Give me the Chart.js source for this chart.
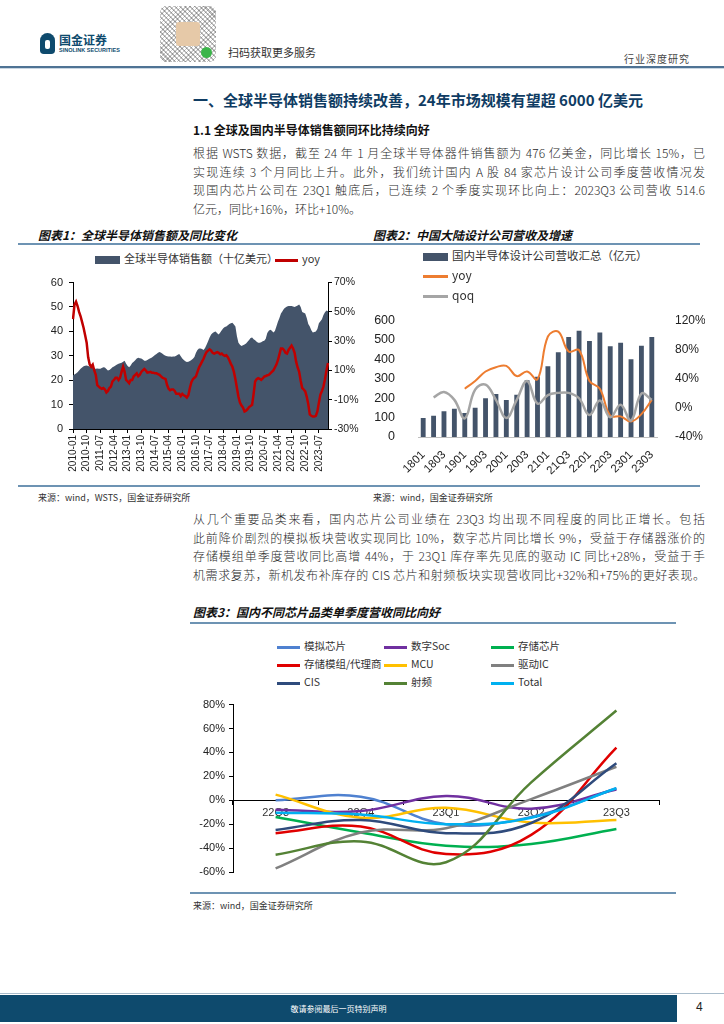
<!DOCTYPE html>
<html>
<head>
<meta charset="utf-8">
<script src="https://cdn.jsdelivr.net/npm/chart.js@4.4.1/dist/chart.umd.min.js"></script>
<style>
  html, body { margin: 0; padding: 0; background: #fff; }
  body { width: 724px; height: 1024px; position: relative; overflow: hidden;
         font-family: "Noto Sans CJK SC", "Noto Sans", sans-serif; color: #222; }
  .abs { position: absolute; white-space: nowrap; }
  .para { position: absolute; left: 193px; width: 512px; font-size: 12px; color: #2a2a2a; font-weight: 300; }
  .para div { height: 18.5px; line-height: 18.5px; text-align: justify; text-align-last: justify; white-space: nowrap; }
  .para div.last { text-align-last: left; }
  .ctitle { position: absolute; font-size: 12px; font-weight: bold; font-style: italic; color: #111; white-space: nowrap; }
  .rule { position: absolute; height: 2px; background: #6d93b3; }
  .src { position: absolute; font-size: 9px; color: #333; white-space: nowrap; }
  .leg { position: absolute; font-size: 11px; color: #333; white-space: nowrap; line-height: 14px; }
  .sw { display: inline-block; vertical-align: middle; margin-right: 4px; }
  canvas { position: absolute; }
</style>
</head>
<body>
<!-- header -->
<div class="abs" style="left:40px;top:33px;width:15px;height:21px;background:#0e4a6d;border-radius:8px 8px 4px 4px;"></div>
<div class="abs" style="left:45px;top:40px;width:5px;height:9px;background:#fff;border-radius:2px;"></div>
<div class="abs" style="left:59px;top:31px;font-size:12px;font-weight:bold;color:#0e4a6d;">国金证券</div>
<div class="abs" style="left:59px;top:47px;font-size:5.5px;font-weight:bold;color:#0e4a6d;font-family:'Liberation Sans',sans-serif;">SINOLINK SECURITIES</div>
<div class="abs" style="left:160px;top:6px;width:56px;height:56px;border-radius:6px;background:repeating-linear-gradient(45deg,#bbb 0 1.5px,#fff 1.5px 3.5px),repeating-linear-gradient(-45deg,#ccc 0 1px,#fff 1px 3px);background-blend-mode:multiply;"></div>
<div class="abs" style="left:176px;top:22px;width:24px;height:24px;background:#e6c9a8;border-radius:3px;"></div>
<div class="abs" style="left:201px;top:47px;width:11px;height:11px;background:#3bb54a;border-radius:50%;"></div>
<div class="abs" style="left:228px;top:44px;font-size:11px;color:#333;">扫码获取更多服务</div>
<div class="abs" style="left:624px;top:51px;font-size:10px;color:#444;letter-spacing:1px;">行业深度研究</div>
<div class="abs" style="left:0;top:66px;width:724px;height:2px;background:#4f7394;"></div>
<div class="abs" style="left:0;top:68px;width:724px;height:1px;background:#c9d6e2;"></div>

<div class="abs" style="left:193px;top:89px;font-size:15px;font-weight:bold;color:#0f3c63;">一、全球半导体销售额持续改善，24年市场规模有望超 6000 亿美元</div>
<div class="abs" style="left:193px;top:121px;font-size:12px;font-weight:bold;color:#111;">1.1 全球及国内半导体销售额同环比持续向好</div>

<div class="para" style="top:144px;">
  <div>根据 WSTS 数据，截至 24 年 1 月全球半导体器件销售额为 476 亿美金，同比增长 15%，已</div>
  <div>实现连续 3 个月同比上升。此外，我们统计国内 A 股 84 家芯片设计公司季度营收情况发</div>
  <div>现国内芯片公司在 23Q1 触底后，已连续 2 个季度实现环比向上：2023Q3 公司营收 514.6</div>
  <div class="last">亿元，同比+16%，环比+10%。</div>
</div>

<div class="ctitle" style="left:38px;top:226px;">图表1：全球半导体销售额及同比变化</div>
<div class="ctitle" style="left:373px;top:226px;">图表2：中国大陆设计公司营收及增速</div>
<div class="rule" style="left:18px;top:243px;width:682px;"></div>

<!-- chart 1 legend -->
<div class="leg" style="left:95px;top:251px;"><span class="sw" id="l1a" style="width:25px;height:8px;"></span>全球半导体销售额（十亿美元）</div>
<div class="leg" style="left:275px;top:251px;"><span class="sw" id="l1b" style="width:23px;height:3px;"></span>yoy</div>
<canvas id="c1" width="350" height="205" style="left:18px;top:270px;"></canvas>

<!-- chart 2 legend -->
<div class="leg" style="left:423px;top:248px;font-size:11.5px;"><span class="sw" id="l2a" style="width:25px;height:8px;"></span>国内半导体设计公司营收汇总（亿元）</div>
<div class="leg" style="left:423px;top:268px;font-size:12px;"><span class="sw" id="l2b" style="width:25px;height:3px;"></span>yoy</div>
<div class="leg" style="left:423px;top:288px;font-size:12px;"><span class="sw" id="l2c" style="width:25px;height:3px;"></span>qoq</div>
<canvas id="c2" width="345" height="180" style="left:360px;top:298px;"></canvas>

<div class="rule" style="left:18px;top:485px;width:682px;"></div>
<div class="src" style="left:38px;top:491px;">来源：wind，WSTS，国金证券研究所</div>
<div class="src" style="left:373px;top:491px;">来源：wind，国金证券研究所</div>

<div class="para" style="top:510px;">
  <div>从几个重要品类来看，国内芯片公司业绩在 23Q3 均出现不同程度的同比正增长。包括</div>
  <div>此前降价剧烈的模拟板块营收实现同比 10%，数字芯片同比增长 9%，受益于存储器涨价的</div>
  <div>存储模组单季度营收同比高增 44%，于 23Q1 库存率先见底的驱动 IC 同比+28%，受益于手</div>
  <div>机需求复苏，新机发布补库存的 CIS 芯片和射频板块实现营收同比+32%和+75%的更好表现。</div>
</div>

<div class="ctitle" style="left:193px;top:603px;">图表3：国内不同芯片品类单季度营收同比向好</div>
<div class="rule" style="left:190px;top:622px;width:486px;"></div>
<div id="leg3"></div>
<canvas id="c3" width="480" height="190" style="left:185px;top:694px;"></canvas>
<div class="rule" style="left:190px;top:892px;width:486px;"></div>
<div class="src" style="left:193px;top:899px;">来源：wind，国金证券研究所</div>

<!-- footer -->
<div class="abs" style="left:0;top:993px;width:724px;height:1px;background:#a9bccb;"></div>
<div class="abs" style="left:0;top:995px;width:677px;height:27px;background:#0e4a6d;"></div>
<div class="abs" style="left:0;top:995px;width:677px;height:27px;line-height:27px;text-align:center;font-size:8px;color:#fff;">敬请参阅最后一页特别声明</div>
<div class="abs" style="left:696px;top:1000px;font-size:12px;color:#222;font-family:'Liberation Sans',sans-serif;">4</div>

<script>
// ---------------- Chart 1 data ----------------
const salesMonths = [];
for (let y = 2010; y <= 2024; y++) {
  for (let m = 1; m <= 12; m++) {
    if (y === 2024 && m > 1) break;
    salesMonths.push(y + '-' + String(m).padStart(2, '0'));
  }
}
const globalSales = [
  22.0, 22.3, 22.7, 23.3, 24.0, 24.7, 25.2, 25.7, 25.9, 26.0, 25.8, 25.6,
  25.6, 25.2, 24.7, 24.7, 24.8, 24.7, 24.7, 25.0, 25.3, 25.2, 24.6, 24.0,
  24.2, 24.7, 25.3, 25.6, 26.0, 26.4, 26.7, 26.9, 27.2, 27.6, 28.0, 26.7,
  25.8, 25.3, 26.0, 27.0, 27.6, 28.2, 28.9, 29.2, 29.0, 28.9, 28.5, 28.0,
  28.0, 28.3, 28.7, 29.0, 29.3, 29.8, 30.3, 30.7, 31.2, 31.6, 31.2, 30.8,
  30.3, 30.0, 29.8, 29.7, 29.7, 29.6, 29.7, 29.7, 30.0, 30.4, 30.7, 29.8,
  28.9, 28.3, 27.8, 27.5, 27.6, 27.9, 28.3, 28.8, 29.5, 31.3, 32.4, 33.0,
  33.0, 32.8, 32.4, 33.2, 34.5, 36.0, 37.5, 38.7, 39.3, 39.8, 40.0, 39.2,
  38.7, 39.5, 40.5, 41.3, 41.8, 42.0, 42.5, 43.0, 43.3, 43.5, 42.8, 42.0,
  38.0, 35.3, 34.5, 34.0, 34.3, 34.6, 35.0, 35.8, 36.5, 37.3, 37.5, 36.8,
  36.4, 35.8, 35.3, 35.3, 35.6, 36.0, 36.2, 37.0, 39.3, 40.3, 40.7, 40.3,
  39.6, 40.2, 42.0, 44.0, 45.5, 47.3, 48.3, 49.3, 49.8, 50.2, 50.4, 50.4,
  50.4, 50.2, 50.0, 50.3, 50.6, 51.0, 50.0, 48.0, 47.6, 47.3, 45.5, 43.0,
  42.0, 40.5, 39.6, 39.8, 40.0, 41.0, 43.3, 44.2, 45.0, 46.7, 47.8, 48.6,
  48.3
];
const globalYoy = [
  45, 55, 57, 54, 50, 47, 43, 39, 34, 29, 19, 14,
  12.5, 14, 10, 7, 0, -1, -2, -2.5, -2, -3, -5, -4,
  -2, -1, 2.5, 3.5, 5, 5, 3.5, 5, 9, 12.5, 9, 3.5,
  2.5, 1.3, 3.5, 3.5, 6, 7, 8, 6, 7, 9, 10, 11,
  10, 8.5, 8.7, 9, 8.5, 8.5, 8, 8, 7.5, 7, 6, 5,
  4.5, 4, 0, -2.5, -3.5, -3, -3, -4, -6, -6, -6, -7.5,
  -6, -7, -7.5, -8.5, -7, -2, 2, 4, 5, 6, 9, 12,
  14, 16, 18, 20.5, 22.6, 23.5, 24.4, 23.5, 22, 21.5, 22, 22.5,
  22, 21, 21.5, 20.5, 20, 20.4, 19, 17, 14.5, 12.5, 9, 4,
  -2, -8, -12, -14, -15.4, -18, -17.5, -16.5, -15, -14.3, -13.5, -6,
  2.5, 4, 4.7, 4.3, 3.6, 4.5, 5.8, 6.2, 6.7, 7, 8, 9,
  10, 12, 14, 17, 21, 25, 25, 24, 22, 21.5, 24, 25.5,
  27, 25, 22, 16, 12, 9, 3, -2, -3, -4.3, -8, -13,
  -20, -21, -21.5, -21.5, -21, -18, -12, -6.5, -4, -1, 4, 10, 15
];
const salesTickEvery = 9;

// ---------------- Chart 2 data ----------------
const quarters = ['1801','1802','1803','1804','1901','1902','1903','1904','2001','2002','2003','2004',
                  '2101','2102','21Q3','2104','2201','2202','2203','2204','2301','2302','2303'];
const designRevenue = [98, 110, 132, 146, 124, 151, 199, 222, 191, 217, 292, 310,
                       364, 437, 515, 547, 494, 538, 467, 486, 400, 470, 514.6];
const designYoy = [null, null, null, null, 26.3, 37, 50, 55.9, 57.7, 43.7, 50, 39.3,
                   98, 104.7, 77.3, 79.4, 37, 26.3, -10.8, -11.7, -18.7, -8.6, 11];
const designQoq = [null, 14.5, 21.9, 11, -14.3, 25, 31.9, 11, -13.9, 11, 37, 5.8,
                   17.5, 20.6, 20.6, 13.2, -9.9, 10, -13, 4.4, -17.4, 19.7, 11];

// ---------------- Chart 3 data ----------------
const chipQuarters = ['22Q3', '22Q4', '23Q1', '23Q2', '23Q3'];
const chipNames = ['模拟芯片', '数字Soc', '存储芯片', '存储模组/代理商', 'MCU', '驱动IC', 'CIS', '射频', 'Total'];
const analogYoy   = [0, 3, -20, -14, 10];
const digitalYoy  = [-8, -9, 3.6, -7, 9];
const memoryYoy   = [-14, -27, -38, -36.5, -24];
const moduleYoy   = [-27.5, -22, -45, -29, 44];
const mcuYoy      = [4.7, -14.6, -6.3, -18.7, -16.5];
const driverYoy   = [-57, -27, -23.4, 1, 28];
const cisYoy      = [-24.8, -16.5, -27.5, -19, 31];
const rfYoy       = [-45.5, -34.4, -51.8, 15, 75];
const totalYoy    = [-10.5, -12, -20, -14.6, 10];
const chipSeries = [analogYoy, digitalYoy, memoryYoy, moduleYoy, mcuYoy, driverYoy, cisYoy, rfYoy, totalYoy];
const chipColors = ['#4F81D0', '#7030A0', '#00B050', '#E00000', '#FFC000', '#808080', '#2F4B7C', '#548235', '#00B0F0'];

// ---------------- common ----------------
Chart.defaults.font.family = '"Liberation Sans", Arial, sans-serif';
Chart.defaults.color = '#222';
Chart.defaults.animation = false;
Chart.defaults.responsive = false;
Chart.defaults.devicePixelRatio = 1;
Chart.defaults.plugins.legend.display = false;
Chart.defaults.plugins.tooltip.enabled = false;

const AREA = '#44546A', RED = '#C00000', ORANGE = '#ED7D31', GRAY = '#A5A5A5';
document.getElementById('l1a').style.background = AREA;
document.getElementById('l1b').style.background = RED;
document.getElementById('l2a').style.background = AREA;
document.getElementById('l2b').style.background = ORANGE;
document.getElementById('l2c').style.background = GRAY;

// ---------------- Chart 1 ----------------
new Chart(document.getElementById('c1'), {
  type: 'line',
  data: {
    labels: salesMonths,
    datasets: [
      { label: '全球半导体销售额（十亿美元）', data: globalSales, yAxisID: 'y', fill: 'origin',
        backgroundColor: AREA, borderColor: AREA, borderWidth: 0, pointRadius: 0, tension: 0, order: 1 },
      { label: 'yoy', data: globalYoy, yAxisID: 'y1', fill: false,
        borderColor: RED, borderWidth: 2.5, pointRadius: 0, tension: 0, order: 0 }
    ]
  },
  options: {
    layout: { padding: { top: 10, left: 0, right: 0, bottom: 0 } },
    scales: {
      x: {
        offset: false,
        grid: { display: true, drawOnChartArea: false, tickLength: 4,
                color: (c) => (c.index % salesTickEvery === 0 ? '#000' : 'rgba(0,0,0,0)') },
        border: { display: true, color: '#000', width: 1 },
        ticks: { autoSkip: false, minRotation: 90, maxRotation: 90, padding: 2,
                 font: { size: 10 }, color: '#222',
                 callback: function (v, i) { return i % salesTickEvery === 0 ? this.getLabelForValue(v) : ''; } },
        afterFit: (s) => { s.height = 46; }
      },
      y: {
        position: 'left', min: 0, max: 60,
        ticks: { stepSize: 10, padding: 6, font: { size: 11 }, color: '#222' },
        grid: { drawOnChartArea: false, tickLength: 4, color: '#000' },
        border: { display: true, color: '#000' },
        afterFit: (s) => { s.width = 55; }
      },
      y1: {
        position: 'right', min: -30, max: 70,
        ticks: { stepSize: 10, padding: 2, font: { size: 10.5 }, color: '#222', callback: (v) => v + '%' },
        grid: { drawOnChartArea: false, tickLength: 4, color: '#000' },
        border: { display: true, color: '#000' },
        afterFit: (s) => { s.width = 40; }
      }
    }
  }
});

// ---------------- Chart 2 ----------------
new Chart(document.getElementById('c2'), {
  type: 'bar',
  data: {
    labels: quarters,
    datasets: [
      { type: 'line', label: 'qoq', data: designQoq, yAxisID: 'y1', borderColor: GRAY, borderWidth: 2.5,
        pointRadius: 0, tension: 0.4, spanGaps: true, order: 0 },
      { type: 'line', label: 'yoy', data: designYoy, yAxisID: 'y1', borderColor: ORANGE, borderWidth: 2,
        pointRadius: 0, tension: 0.4, spanGaps: true, order: 1 },
      { type: 'bar', label: '国内半导体设计公司营收汇总（亿元）', data: designRevenue, yAxisID: 'y',
        backgroundColor: AREA, barPercentage: 0.52, categoryPercentage: 0.9, order: 2 }
    ]
  },
  options: {
    layout: { padding: { top: 18, left: 0, right: 0, bottom: 0 } },
    scales: {
      x: {
        grid: { display: false },
        border: { display: true, color: '#BFBFBF', width: 1 },
        ticks: { autoSkip: false, minRotation: 45, maxRotation: 45, padding: 3,
                 font: { size: 11.5 }, color: '#222',
                 callback: function (v, i) { return i % 2 === 0 ? this.getLabelForValue(v) : ''; } },
        afterFit: (s) => { s.height = 41; }
      },
      y: {
        position: 'left', min: 0, max: 600,
        ticks: { stepSize: 100, padding: 15, font: { size: 12.5 }, color: '#222' },
        grid: { display: false }, border: { display: false },
        afterFit: (s) => { s.width = 58; }
      },
      y1: {
        position: 'right', min: -40, max: 120,
        ticks: { stepSize: 20, padding: 10, font: { size: 12 }, color: '#222', callback: (v) => v + '%' },
        grid: { display: false }, border: { display: false },
        afterFit: (s) => { s.width = 48; }
      }
    }
  }
});

// ---------------- Chart 3 ----------------
const leg3 = document.getElementById('leg3');
const legCols = [277, 384, 491], legRows = [639, 657, 675];
chipNames.forEach((n, i) => {
  const d = document.createElement('div');
  d.className = 'leg';
  d.style.left = legCols[i % 3] + 'px';
  d.style.top = legRows[Math.floor(i / 3)] + 'px';
  d.style.fontSize = '10.5px';
  d.innerHTML = '<span class="sw" style="width:23px;height:3px;background:' + chipColors[i] + '"></span>' + n;
  leg3.appendChild(d);
});

new Chart(document.getElementById('c3'), {
  type: 'line',
  data: {
    labels: chipQuarters,
    datasets: chipSeries.map((s, i) => ({
      label: chipNames[i], data: s, borderColor: chipColors[i], borderWidth: 2.5,
      pointRadius: 0, tension: 0.4, fill: false, order: -i
    }))
  },
  options: {
    layout: { padding: { top: 9, left: 0, right: 6, bottom: 12 } },
    scales: {
      x: {
        position: { y: 0 }, offset: true,
        grid: { display: true, offset: true, drawOnChartArea: false, tickLength: 4, color: '#000' },
        border: { display: true, color: '#000', width: 1 },
        ticks: { padding: 2, font: { size: 11 }, color: '#333' }
      },
      y: {
        min: -60, max: 80,
        ticks: { stepSize: 20, padding: 4, font: { size: 11 }, color: '#222', callback: (v) => v + '%' },
        grid: { drawOnChartArea: false, tickLength: 4, color: '#000' },
        border: { display: true, color: '#000' },
        afterFit: (s) => { s.width = 48; }
      }
    }
  }
});
</script>
</body>
</html>
